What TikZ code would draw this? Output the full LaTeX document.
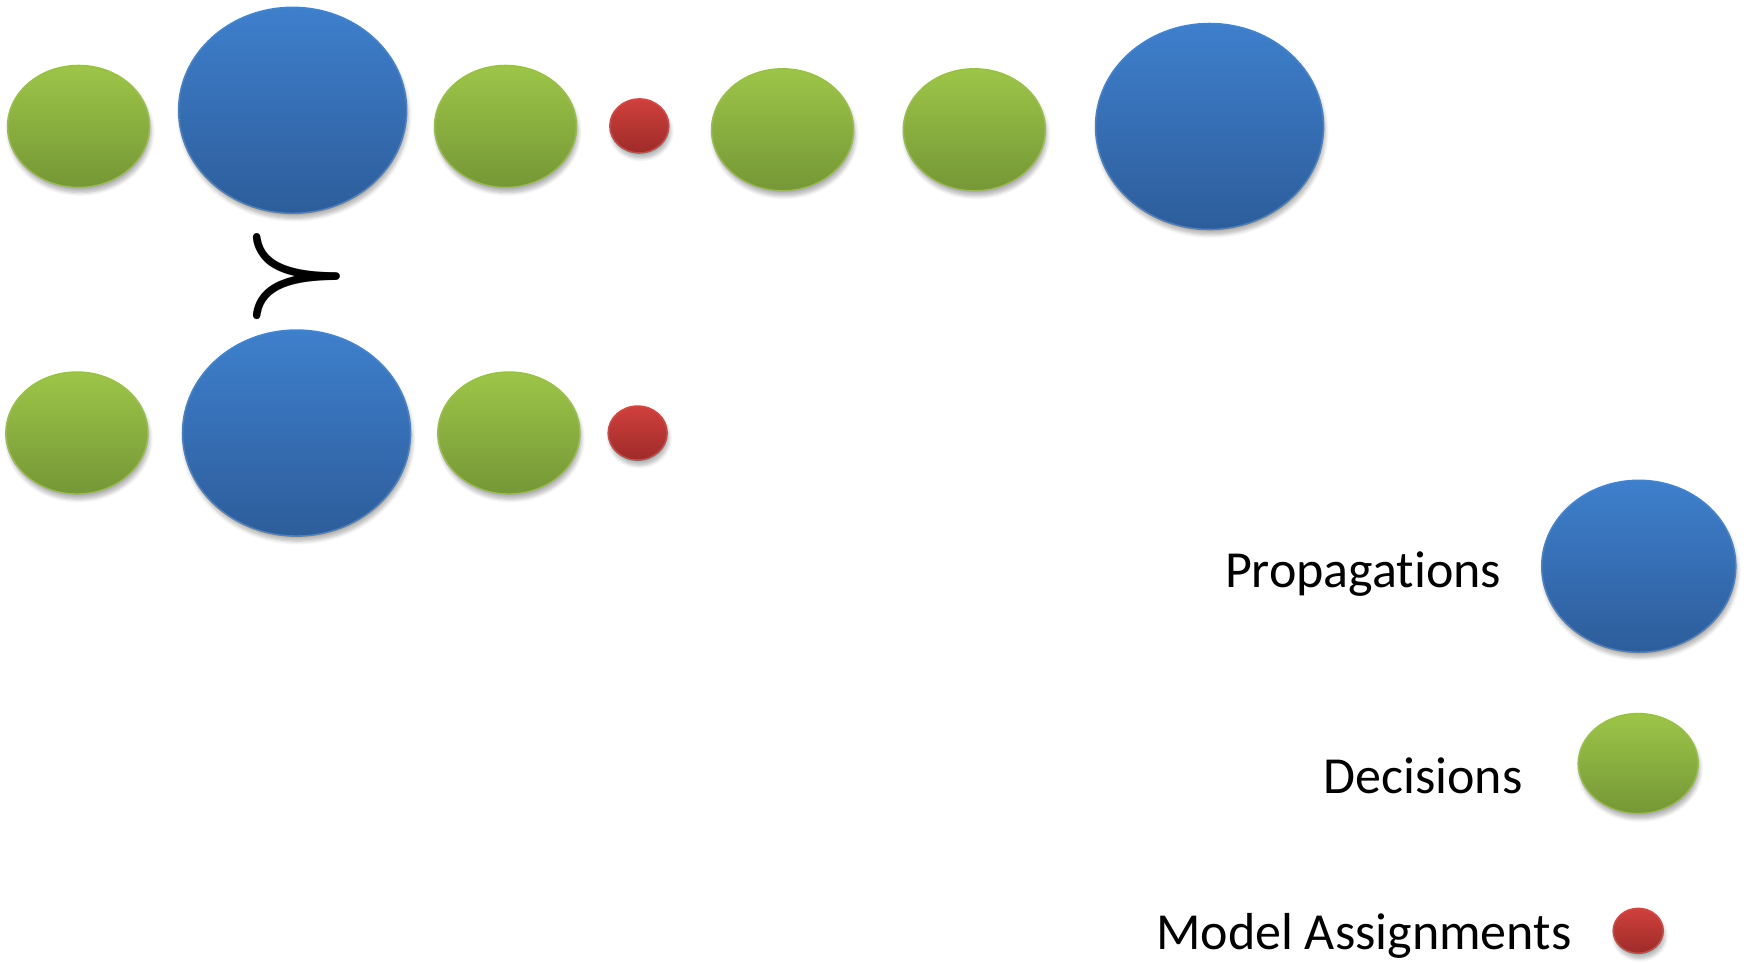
\documentclass[tikz,border=0pt]{standalone}
\usepackage{amsmath}
\usepackage{fontspec}
\setmainfont{Carlito}[Ligatures=NoCommon]
\usetikzlibrary{positioning,shapes.geometric,shadows.blur}

\definecolor{propTop}{RGB}{62,127,204}
\definecolor{propBot}{RGB}{45,93,155}
\definecolor{propRim}{RGB}{79,129,189}
\definecolor{decTop}{RGB}{157,197,72}
\definecolor{decBot}{RGB}{117,151,54}
\definecolor{decRim}{RGB}{155,187,89}
\definecolor{modTop}{RGB}{208,64,60}
\definecolor{modBot}{RGB}{158,43,41}
\definecolor{modRim}{RGB}{192,80,77}

\begin{document}
\begin{tikzpicture}[
    x=0.5574pt, y=-0.5574pt,
    ball/.style={ellipse, inner sep=0pt, line width=0.8pt, blur shadow={shadow xshift=0.8pt, shadow yshift=-2.5pt, shadow blur steps=6, shadow opacity=30}},
    prop/.style={ball, minimum width=114pt, minimum height=103pt, top color=propTop, bottom color=propBot, draw=propRim},
    dec/.style={ball, minimum width=71pt, minimum height=61pt, top color=decTop, bottom color=decBot, draw=decRim},
    model/.style={ball, minimum width=29.5pt, minimum height=27pt, top color=modTop, bottom color=modBot, draw=modRim},
    lbl/.style={font=\fontsize{26}{30}\selectfont, inner sep=0pt, anchor=base east},
    node distance=20pt
]
\useasboundingbox (0,0) rectangle (1568,863);
% first trail
\node[dec] (a1) at (70.5,113.5) {};
\node[prop] (a2) at (262.5,99) {};
\node[dec] (a3) at (453.5,113.5) {};
\node[model] (a4) at (573.5,113) {};
\node[dec] (a5) at (702,116.5) {};
\node[dec] (a6) at (874,116.5) {};
\node[prop] (a7) at (1085,113.5) {};
% ordering
\node[xscale=6.2, yscale=6.4] (succ) at (266,248) {$\boldsymbol{\succ}$};
% second trail
\node[dec] (b1) at (69,388.5) {};
\node[prop] (b2) at (266,388.5) {};
\node[dec] (b3) at (456.5,388.5) {};
\node[model] (b4) at (572,388.5) {};
% legend
\node[prop, minimum width=97pt, minimum height=86pt] (lp) at (1470,508) {};
\node[dec, minimum width=60pt, minimum height=50pt] (ld) at (1469.5,685) {};
\node[model, minimum width=25pt, minimum height=22.5pt] (lm) at (1469.5,835) {};
\node[lbl] (tp) at (1347,527) {Propagations};
\node[lbl] (td) at (1366,712) {Decisions};
\node[lbl] (tm) at (1410,852) {Model Assignments};
\end{tikzpicture}
\end{document}
